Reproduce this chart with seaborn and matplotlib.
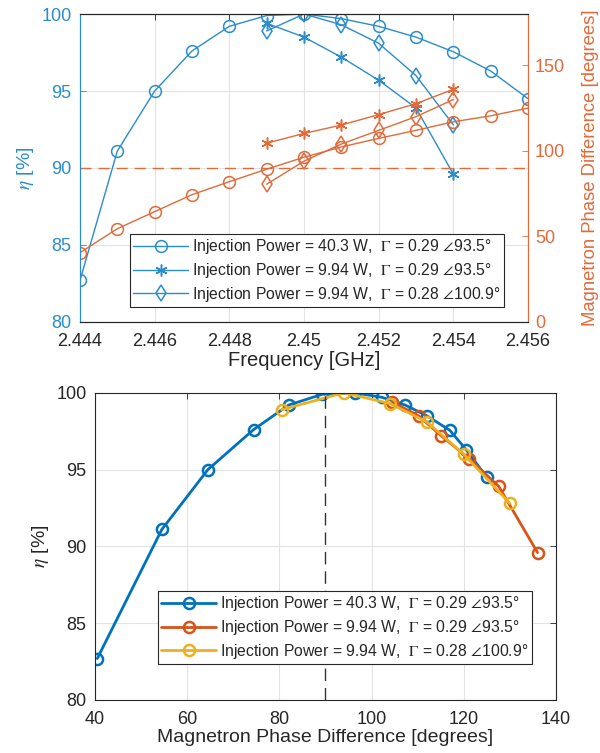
import numpy as np
import pandas as pd
import matplotlib
matplotlib.use("Agg")
import matplotlib.pyplot as plt
import seaborn as sns

# ------------------------------------------------------------
# Data
# ------------------------------------------------------------
freq_a = [2.444, 2.445, 2.446, 2.447, 2.448, 2.449, 2.450,
          2.451, 2.452, 2.453, 2.454, 2.455, 2.456]
eta_a = [82.7, 91.1, 95.0, 97.6, 99.2, 99.9, 100.0,
         99.7, 99.2, 98.5, 97.55, 96.3, 94.5]
phase_a = [40.5, 54.5, 64.5, 74.4, 82.0, 89.3, 96.3,
           102.3, 107.3, 112.0, 117.0, 120.5, 125.0]

freq_b = [2.449, 2.450, 2.451, 2.452, 2.453, 2.454]
eta_b = [99.4, 98.5, 97.2, 95.7, 93.9, 89.6]
phase_b = [104.5, 110.2, 115.1, 121.2, 127.6, 136.0]

freq_c = [2.449, 2.450, 2.451, 2.452, 2.453, 2.454]
eta_c = [98.9, 100.0, 99.3, 98.1, 96.0, 92.8]
phase_c = [80.5, 94.0, 104.0, 112.0, 120.0, 130.0]

series_labels = [
    r"Injection Power = 40.3 W,  $\Gamma$ = 0.29 $\angle$93.5°",
    r"Injection Power = 9.94 W,  $\Gamma$ = 0.29 $\angle$93.5°",
    r"Injection Power = 9.94 W,  $\Gamma$ = 0.28 $\angle$100.9°",
]

freq_ticks = [2.444, 2.446, 2.448, 2.450, 2.452, 2.454, 2.456]
freq_ticklabels = ["2.444", "2.446", "2.448", "2.45", "2.452", "2.454", "2.456"]
eta_ticks = [80, 85, 90, 95, 100]
phase_ticks_right = [0, 50, 100, 150]
phase_ticks_bottom = [40, 60, 80, 100, 120, 140]

# ------------------------------------------------------------
# Style
# ------------------------------------------------------------
sns.set_style("white")
plt.rcParams["font.family"] = ["Liberation Sans", "DejaVu Sans"]
plt.rcParams["mathtext.fontset"] = "stix"

TXT = "#262626"
BLUE_T = "#2b8ccc"
ORANGE_T = "#e06a3a"
BLUE = "#0072BD"
ORANGE = "#D95319"
YELLOW = "#EDB120"
GRID = "#e3e3e3"
TICK_FS = 13
LAB_FS = 14
LEG_FS = 11.3

fig = plt.figure(figsize=(6, 7.53), dpi=100)
ax1 = fig.add_axes([0.1333, 0.5724, 0.7467, 0.409])
ax2 = ax1.twinx()
ax3 = fig.add_axes([0.1583, 0.0704, 0.7683, 0.408])

# ============================================================
# Top: efficiency / phase vs frequency
# ============================================================
top_kw = dict(linewidth=1.0, markersize=8.5, markerfacecolor="none",
              markeredgewidth=1.1)
star = (6, 2, 0)

sns.lineplot(x=freq_a, y=eta_a, ax=ax1, color=BLUE_T, marker="o",
             markeredgecolor=BLUE_T, label=series_labels[0], **top_kw)
sns.lineplot(x=freq_b, y=eta_b, ax=ax1, color=BLUE_T, marker=star,
             markeredgecolor=BLUE_T, label=series_labels[1], **top_kw)
sns.lineplot(x=freq_c, y=eta_c, ax=ax1, color=BLUE_T, marker="d",
             markeredgecolor=BLUE_T, label=series_labels[2], **top_kw)

sns.lineplot(x=freq_a, y=phase_a, ax=ax2, color=ORANGE_T, marker="o",
             markeredgecolor=ORANGE_T, **top_kw)
sns.lineplot(x=freq_b, y=phase_b, ax=ax2, color=ORANGE_T, marker=star,
             markeredgecolor=ORANGE_T, **top_kw)
sns.lineplot(x=freq_c, y=phase_c, ax=ax2, color=ORANGE_T, marker="d",
             markeredgecolor=ORANGE_T, **top_kw)
ax2.axhline(90, color=ORANGE_T, linewidth=1.0, linestyle=(0, (8, 5)))

ax1.set_xlim(2.444, 2.456)
ax1.set_ylim(80, 100)
ax2.set_ylim(0, 180)
ax1.set_xticks(freq_ticks)
ax1.set_xticklabels(freq_ticklabels)
ax1.set_yticks(eta_ticks)
ax2.set_yticks(phase_ticks_right)
ax1.grid(True, color=GRID, linewidth=0.8)
ax1.set_axisbelow(True)

ax1.set_xlabel("Frequency [GHz]", fontsize=LAB_FS + 0.5, color=TXT, labelpad=1)
ax1.set_ylabel(r"$\eta$ [%]", fontsize=LAB_FS, color=BLUE_T, labelpad=4)
ax2.set_ylabel("Magnetron Phase Difference [degrees]", fontsize=LAB_FS - 0.7,
               color=ORANGE_T, labelpad=12)

ax1.tick_params(axis="x", direction="in", top=True, length=4, width=0.6,
                labelsize=TICK_FS, colors=TXT, pad=8)
ax1.tick_params(axis="y", direction="in", left=True, right=False, length=4,
                width=0.6, labelsize=TICK_FS, colors=BLUE_T, pad=6)
ax2.tick_params(axis="y", direction="in", right=True, length=4, width=0.6,
                labelsize=TICK_FS, colors=ORANGE_T, pad=5)

for ax in (ax1, ax2):
    ax.spines["top"].set_color(TXT)
    ax.spines["bottom"].set_color(TXT)
    ax.spines["left"].set_color(BLUE_T)
    ax.spines["right"].set_color(ORANGE_T)
    for s in ax.spines.values():
        s.set_linewidth(0.8)

handles, labels = ax1.get_legend_handles_labels()
ax1.get_legend().remove()
leg = ax2.legend(handles, labels, loc="lower left", bbox_to_anchor=(0.112, 0.049),
                 borderaxespad=0, fontsize=LEG_FS, handlelength=3.5,
                 handletextpad=0.25, labelspacing=0.3, borderpad=0.2,
                 fancybox=False, framealpha=1, edgecolor=TXT)
leg.get_frame().set_linewidth(0.8)
for t in leg.get_texts():
    t.set_color(TXT)

# ============================================================
# Bottom: efficiency vs phase difference
# ============================================================
bot_kw = dict(linewidth=2.0, markersize=8.0, markerfacecolor="none",
              markeredgewidth=1.8, marker="o")

sns.lineplot(x=phase_a, y=eta_a, ax=ax3, color=BLUE, markeredgecolor=BLUE,
             label=series_labels[0], sort=False, **bot_kw)
sns.lineplot(x=phase_b, y=eta_b, ax=ax3, color=ORANGE, markeredgecolor=ORANGE,
             label=series_labels[1], sort=False, **bot_kw)
sns.lineplot(x=phase_c, y=eta_c, ax=ax3, color=YELLOW, markeredgecolor=YELLOW,
             label=series_labels[2], sort=False, **bot_kw)
ax3.axvline(90, color="#333333", linewidth=1.0, linestyle=(0, (9, 5)))

ax3.set_xlim(40, 140)
ax3.set_ylim(80, 100)
ax3.set_xticks(phase_ticks_bottom)
ax3.set_yticks(eta_ticks)
ax3.grid(True, color=GRID, linewidth=0.8)
ax3.set_axisbelow(True)
ax3.set_xlabel("Magnetron Phase Difference [degrees]", fontsize=LAB_FS,
               color=TXT, labelpad=1)
ax3.set_ylabel(r"$\eta$ [%]", fontsize=LAB_FS, color=TXT, labelpad=4)
ax3.tick_params(direction="in", top=True, right=True, length=4, width=0.6,
                labelsize=TICK_FS, colors=TXT)
ax3.tick_params(axis="x", pad=8)
ax3.tick_params(axis="y", pad=6)
for s in ax3.spines.values():
    s.set_color(TXT)
    s.set_linewidth(0.8)

leg3 = ax3.legend(loc="lower left", bbox_to_anchor=(0.137, 0.117),
                  borderaxespad=0, fontsize=LEG_FS, handlelength=3.5,
                  handletextpad=0.25, labelspacing=0.3, borderpad=0.2,
                  fancybox=False, framealpha=1, edgecolor=TXT)
leg3.get_frame().set_linewidth(0.8)
for t in leg3.get_texts():
    t.set_color(TXT)

fig.savefig("out.png", dpi=100)
